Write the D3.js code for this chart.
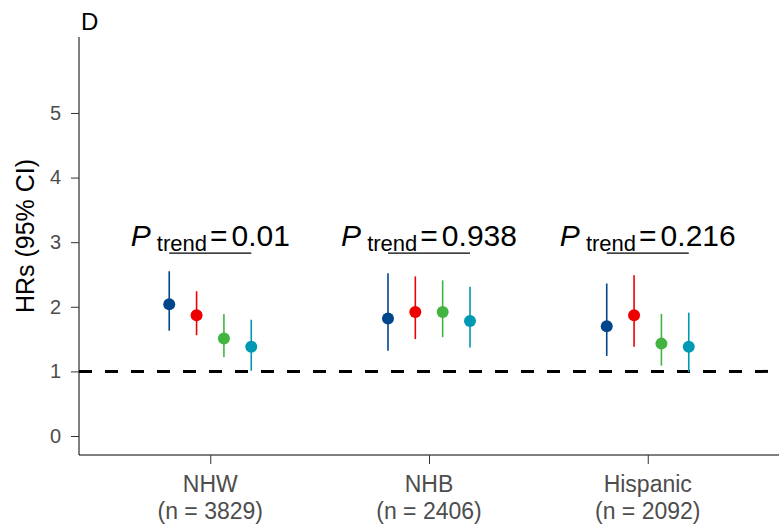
<!DOCTYPE html>
<html>
<head>
<meta charset="utf-8">
<script src="https://cdn.jsdelivr.net/npm/d3@7"></script>
<style>
  body { margin: 0; background: #fff; }
  svg { font-family: "Liberation Sans", Arial, sans-serif; }
</style>
</head>
<body>
<svg width="779" height="525"></svg>
<script>
// groups on the x axis
var groups = ["NHW", "NHB", "Hispanic"];
var groupN = ["(n = 3829)", "(n = 2406)", "(n = 2092)"];
var pTrend = ["0.01", "0.938", "0.216"];

// four levels dodged within each group
var levels = ["Q1", "Q2", "Q3", "Q4"];
var colors = ["#00468B", "#ED0000", "#42B540", "#0099B4"];

// hazard ratios and 95% CI, one row per group
var hr    = [[2.04, 1.87, 1.51, 1.38], [1.82, 1.92, 1.92, 1.78], [1.70, 1.87, 1.43, 1.38]];
var lower = [[1.63, 1.56, 1.22, 1.01], [1.32, 1.50, 1.53, 1.37], [1.24, 1.38, 1.09, 0.99]];
var upper = [[2.55, 2.24, 1.89, 1.80], [2.52, 2.47, 2.41, 2.31], [2.36, 2.49, 1.89, 1.91]];

var yTicks = [0, 1, 2, 3, 4, 5];

var svg = d3.select("svg");
var plotLeft = 79, plotRight = 779, plotTop = 37, plotBottom = 455;

var x = d3.scalePoint().domain(groups).range([plotLeft, plotRight]).padding(0.6);
var y = d3.scaleLinear().domain([-0.294, 6.176]).range([plotBottom, plotTop]);
var dodge = 0.125 * x.step();

var rows = [];
groups.forEach(function(g, gi) {
  levels.forEach(function(l, li) {
    rows.push({ group: g, level: li, hr: hr[gi][li], lo: lower[gi][li], hi: upper[gi][li] });
  });
});
function px(d) { return x(d.group) + (d.level - 1.5) * dodge; }

// axes
var yAxis = svg.append("g")
  .attr("transform", "translate(" + plotLeft + ",0)")
  .call(d3.axisLeft(y).tickValues(yTicks).tickFormat(d3.format("d")).tickSize(8).tickPadding(10));
yAxis.attr("font-family", null).attr("font-size", 20);
yAxis.select(".domain").attr("d", "M0," + plotTop + "V" + plotBottom).attr("stroke", "#000");
yAxis.selectAll(".tick line").attr("stroke", "#333");
yAxis.selectAll(".tick text").attr("fill", "#4d4d4d").style("font-size", "20px");

var xAxis = svg.append("g")
  .attr("transform", "translate(0," + plotBottom + ")")
  .call(d3.axisBottom(x).tickSize(9).tickFormat(""));
xAxis.select(".domain").attr("d", "M" + plotLeft + ",0H" + plotRight).attr("stroke", "#000");
xAxis.selectAll(".tick line").attr("stroke", "#333");

var xl = svg.append("g").selectAll("text").data(groups).enter().append("text")
  .attr("x", function(d) { return x(d); })
  .attr("text-anchor", "middle")
  .attr("fill", "#4d4d4d")
  .style("font-size", "23px");
xl.append("tspan").attr("x", function(d) { return x(d); }).attr("y", 492).text(function(d) { return d; });
xl.append("tspan").attr("x", function(d) { return x(d); }).attr("y", 519)
  .text(function(d, i) { return groupN[i]; });

// reference line at HR = 1
svg.append("line")
  .attr("x1", plotLeft).attr("x2", plotRight)
  .attr("y1", y(1)).attr("y2", y(1))
  .attr("stroke", "#000").attr("stroke-width", 3)
  .attr("stroke-dasharray", "13,13");

// error bars and points
svg.append("g").selectAll("line").data(rows).enter().append("line")
  .attr("x1", px).attr("x2", px)
  .attr("y1", function(d) { return y(d.lo); })
  .attr("y2", function(d) { return y(d.hi); })
  .attr("stroke", function(d) { return colors[d.level]; })
  .attr("stroke-width", 1.6);

svg.append("g").selectAll("circle").data(rows).enter().append("circle")
  .attr("cx", px)
  .attr("cy", function(d) { return y(d.hr); })
  .attr("r", 6)
  .attr("fill", function(d) { return colors[d.level]; });

// P trend annotations
groups.forEach(function(g, gi) {
  svg.append("line")
    .attr("x1", x(g) - 1.5 * dodge).attr("x2", x(g) + 1.5 * dodge)
    .attr("y1", y(2.83)).attr("y2", y(2.83))
    .attr("stroke", "#000").attr("stroke-width", 1.2);

  var t = svg.append("text")
    .attr("x", x(g))
    .attr("y", y(2.94))
    .attr("text-anchor", "middle")
    .attr("fill", "#000")
    .style("font-size", "30px");
  t.append("tspan").style("font-style", "italic").text("P");
  t.append("tspan").style("font-size", "22px").attr("dy", 5).text("\u00a0trend");
  t.append("tspan").attr("dy", -5).attr("dx", 3).text("=");
  t.append("tspan").attr("dx", 4).text(pTrend[gi]);
});

// y axis title and panel tag
svg.append("text")
  .attr("transform", "translate(34," + ((plotTop + plotBottom) / 2 - 10) + ") rotate(-90)")
  .attr("text-anchor", "middle")
  .attr("fill", "#000")
  .style("font-size", "25px")
  .text("HRs (95% CI)");

svg.append("text")
  .attr("x", 81).attr("y", 30)
  .attr("fill", "#000")
  .style("font-size", "24px")
  .text("D");
</script>
</body>
</html>
